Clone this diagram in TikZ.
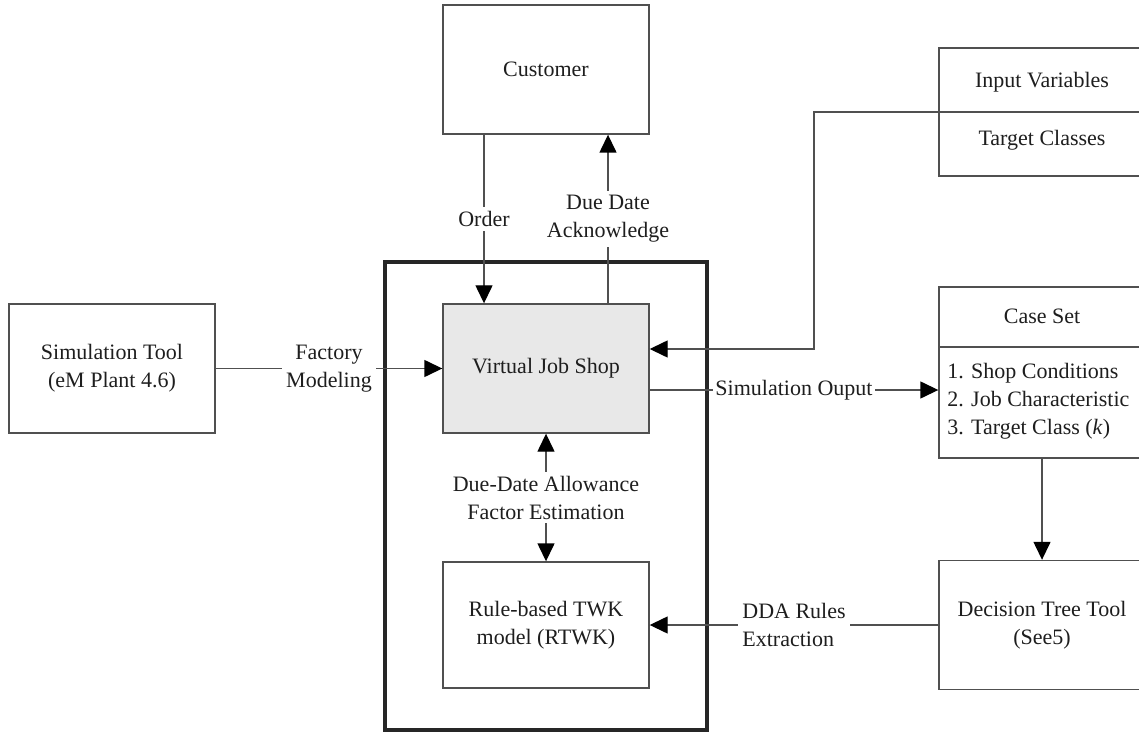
\documentclass[tikz,border=0pt]{standalone}
\usepackage{fontspec}
\setmainfont{LiberationSerif}[Extension=.ttf, UprightFont=*-Regular,
  ItalicFont=*-Italic, BoldFont=*-Bold, BoldItalicFont=*-BoldItalic]
\usetikzlibrary{arrows.meta}
\definecolor{boxgray}{RGB}{80,80,80}
\definecolor{shopfill}{RGB}{232,232,232}
\definecolor{txtdark}{RGB}{30,30,30}

\begin{document}
\begin{tikzpicture}[x=0.5pt, y=-0.5pt,
  every node/.style={font=\fontsize{11}{14}\selectfont, text=txtdark},
  block/.style={draw=boxgray, line width=0.7pt, minimum width=103pt,
    minimum height=64.5pt, align=center, inner sep=0pt},
  lbl/.style={fill=white, inner sep=2pt, align=center},
  arr/.style={-{Triangle[length=9pt, width=8.5pt, color=black]}, line width=0.7pt, boxgray},
  dbl/.style={{Triangle[length=9pt, width=8.5pt, color=black]}-{Triangle[length=9pt, width=8.5pt, color=black]},
    line width=0.7pt, boxgray}]
\clip (0,0) rectangle (1139,732);
\fill[white] (0,0) rectangle (1139,732);
% Frame round the job shop
\node[draw=black!85, line width=1.6pt, minimum width=161pt, minimum height=234pt,
  inner sep=0pt] (frame) at (546,496) {};
% Centre column
\node[block] (cust) at (546,69.5) {Customer};
\node[block, fill=shopfill] (vjs) at (546,368.5) {Virtual Job Shop};
\node[block, minimum height=63pt] (rtwk) at (546,625) {Rule-based TWK\\ model (RTWK)};
% Left: simulation tool
\node[block] (sim) at (112,368.5) {Simulation Tool\\(eM Plant 4.6)};
% Right: input box
\node[block, minimum height=64pt] (inbox) at (1042,112) {};
\node (invar) at (1042,82) {Input Variables};
\node (tgcls) at (1042,140) {Target Classes};
% Right: case set
\node[block, minimum height=85.5pt] (caseset) at (1042,372.5) {};
\node (casehd) at (1042,316) {Case Set};
\node[anchor=west, inner sep=0pt, align=left] (caselst) at (947,401)
  {1. Shop Conditions\\2. Job Characteristic\\3. Target Class (\textit{k})};
\draw[boxgray, line width=0.7pt] (939,347) -- (1145,347);
% Right: decision tree
\node[block] (dtt) at (1042,625) {Decision Tree Tool\\(See5)};
% Customer links
\draw[arr] ([xshift=-31pt]cust.south) -- ([xshift=-31pt]vjs.north)
  node[midway, lbl] (order) {Order};
\draw[arr] ([xshift=31pt]vjs.north) -- ([xshift=31pt]cust.south)
  node[midway, lbl] (ack) {Due Date\\Acknowledge};
% Factory modeling
\draw[arr] (sim) -- (vjs) node[midway, lbl] (fmod) {Factory\\Modeling};
% Inputs back to the shop
\draw[boxgray, line width=0.7pt] (inbox.west) -- (inbox.east);
\coordinate (simin) at ([yshift=9.75pt]vjs.east);
\draw[arr] (inbox.west) -- (814,112) |- (simin);
% Simulation output
\coordinate (simout) at ([yshift=-10.75pt]vjs.east);
\draw[arr] (simout) -- (simout -| caseset.west)
  node[midway, lbl, inner xsep=1pt] (sout) {Simulation Ouput};
% Case set to decision tree
\draw[arr] (caseset) -- (dtt);
% Rules back to RTWK
\draw[arr] (dtt) -- (rtwk) node[midway, lbl, align=left] (dda) {DDA Rules\\Extraction};
% Allowance factor
\draw[dbl] (vjs) -- (rtwk)
  node[midway, lbl] (ddaf) {Due-Date Allowance\\Factor Estimation};
\end{tikzpicture}
\end{document}
